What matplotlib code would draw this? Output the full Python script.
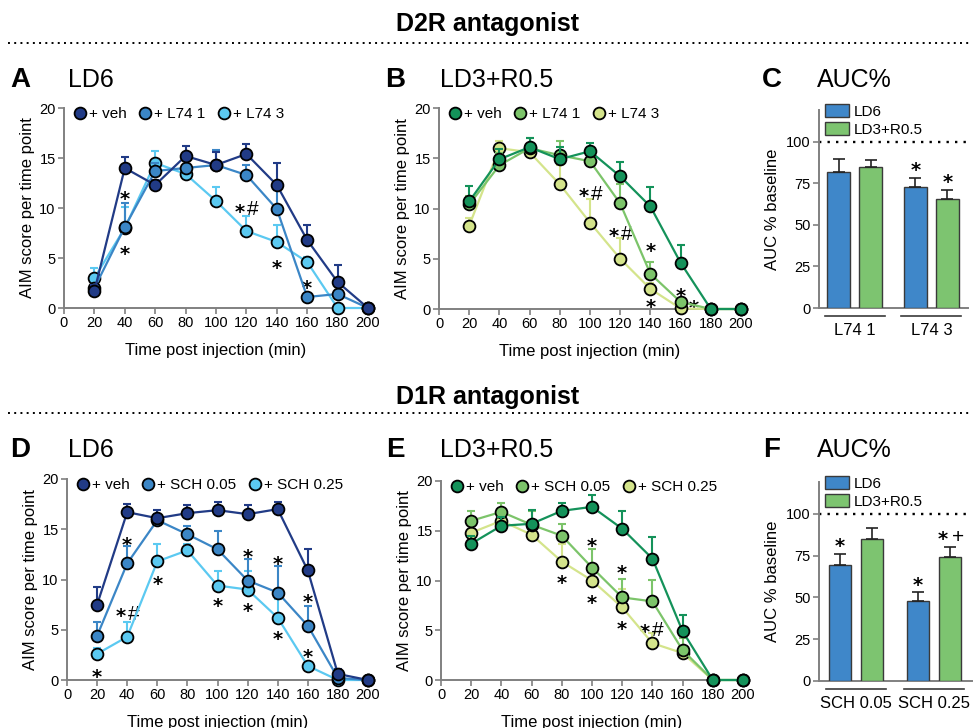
import numpy as np
import matplotlib.pyplot as plt
from matplotlib.lines import Line2D
from matplotlib.patches import Patch

plt.rcParams['font.family'] = ['Liberation Sans', 'DejaVu Sans']

W, H = 975, 728

# ---- data -------------------------------------------------------------
time_min = [20, 40, 60, 80, 100, 120, 140, 160, 180, 200]

# A: D2R antagonist, LD6
a_labels = ['+ veh', '+ L74 1', '+ L74 3']
a_veh = [1.7, 14.0, 12.3, 15.2, 14.3, 15.4, 12.3, 6.8, 2.6, 0.0]
a_veh_err = [0.6, 1.1, 0.5, 1.0, 1.3, 1.0, 2.2, 1.5, 1.7, 0.0]
a_l1 = [2.0, 8.1, 13.7, 14.0, 14.3, 13.3, 9.9, 1.1, 1.4, 0.0]
a_l1_err = [0.4, 2.4, 0.8, 0.8, 1.5, 1.0, 1.9, 0.3, 0.3, 0.0]
a_l3 = [3.0, 8.0, 14.5, 13.4, 10.7, 7.7, 6.6, 4.6, 0.0, 0.0]
a_l3_err = [1.0, 2.1, 1.2, 0.6, 1.4, 1.5, 1.7, 0.5, 0.0, 0.0]
a_marks = [(40, 11.5, '*'), (40, 6.0, '*'), (120, 10.2, '*#'),
           (140, 4.6, '*'), (160, 2.6, '*')]

# B: D2R antagonist, LD3+R0.5
b_labels = ['+ veh', '+ L74 1', '+ L74 3']
b_veh = [10.7, 14.9, 16.1, 14.9, 15.7, 13.2, 10.2, 4.6, 0.0, 0.0]
b_veh_err = [1.5, 1.0, 0.9, 1.2, 0.8, 1.4, 1.9, 1.8, 0.0, 0.0]
b_l1 = [10.4, 14.3, 16.0, 15.3, 14.7, 10.5, 3.5, 0.7, 0.0, 0.0]
b_l1_err = [0.8, 1.2, 1.0, 1.4, 0.8, 1.9, 1.2, 0.3, 0.0, 0.0]
b_l3 = [8.3, 16.0, 15.6, 12.4, 8.6, 5.0, 2.0, 0.05, 0.0, 0.0]
b_l3_err = [0.8, 0.7, 0.8, 1.9, 2.3, 2.1, 0.6, 0.1, 0.0, 0.0]
b_marks = [(100, 11.8, '*#'), (120, 7.8, '*#'), (140, 6.3, '*'),
           (140, 0.8, '*'), (160, 1.9, '*'), (169, 0.7, '*')]

# C: AUC % baseline, D2R antagonist
c_groups = ['L74 1', 'L74 3']
c_ld6 = [81.6, 72.6]
c_ld6_err = [8.0, 5.8]
c_ld3 = [84.6, 65.4]
c_ld3_err = [4.2, 5.6]
c_marks = [(1, 'LD6', '*'), (1, 'LD3', '*')]

# D: D1R antagonist, LD6
d_labels = ['+ veh', '+ SCH 0.05', '+ SCH 0.25']
d_veh = [7.5, 16.7, 16.1, 16.6, 16.9, 16.5, 17.0, 10.9, 0.6, 0.0]
d_veh_err = [1.8, 0.8, 0.8, 0.8, 0.8, 0.9, 0.7, 2.1, 0.5, 0.0]
d_s1 = [4.4, 11.6, 15.9, 14.5, 13.0, 9.9, 8.7, 5.4, 0.2, 0.0]
d_s1_err = [1.4, 1.7, 0.6, 0.8, 1.8, 2.1, 2.6, 2.0, 0.2, 0.0]
d_s2 = [2.6, 4.3, 11.8, 12.9, 9.4, 9.0, 6.2, 1.4, 0.0, 0.0]
d_s2_err = [0.6, 1.5, 1.7, 0.6, 1.4, 1.8, 1.9, 0.4, 0.0, 0.0]
d_marks = [(20, 0.9, '*'), (40, 14.0, '*'), (40, 6.9, '*#'), (60, 10.1, '*'),
           (100, 7.9, '*'), (120, 12.8, '*'), (120, 7.4, '*'), (140, 12.1, '*'),
           (140, 4.7, '*'), (160, 8.3, '*'), (160, 2.9, '*')]

# E: D1R antagonist, LD3+R0.5
e_labels = ['+ veh', '+ SCH 0.05', '+ SCH 0.25']
e_veh = [13.7, 15.5, 15.7, 17.0, 17.4, 15.2, 12.2, 4.9, 0.0, 0.0]
e_veh_err = [0.8, 0.9, 1.4, 0.8, 1.2, 1.8, 2.2, 1.6, 0.0, 0.0]
e_s1 = [16.0, 16.9, 15.6, 14.5, 11.3, 8.3, 7.9, 3.0, 0.0, 0.0]
e_s1_err = [1.0, 0.9, 1.4, 1.2, 1.9, 1.9, 2.2, 1.2, 0.0, 0.0]
e_s2 = [14.8, 16.0, 14.6, 11.9, 10.0, 7.3, 3.7, 2.7, 0.0, 0.0]
e_s2_err = [1.2, 0.8, 1.0, 1.8, 1.2, 1.8, 1.0, 0.6, 0.0, 0.0]
e_marks = [(80, 10.3, '*'), (100, 14.1, '*'), (100, 8.3, '*'),
           (120, 11.3, '*'), (120, 5.7, '*'), (139, 5.4, '*#')]

# F: AUC % baseline, D1R antagonist
f_groups = ['SCH 0.05', 'SCH 0.25']
f_ld6 = [69.6, 47.6]
f_ld6_err = [6.4, 5.4]
f_ld3 = [85.2, 74.2]
f_ld3_err = [6.0, 6.2]
f_marks = [(0, 'LD6', '*'), (1, 'LD6', '*'), (1, 'LD3', '* +')]

BLUES = ['#213b86', '#3b86c6', '#5bc9f1']
GREENS = ['#14925a', '#7cc46a', '#d4e48b']
BAR_COLORS = {'LD6': '#3f87c9', 'LD3': '#7dc470'}
SPINE = '#808080'


def px_axes(fig, left, right, top, bottom):
    return fig.add_axes([left / W, 1 - bottom / H, (right - left) / W, (bottom - top) / H])


def style_axes(ax):
    for s in ['top', 'right']:
        ax.spines[s].set_visible(False)
    for s in ['left', 'bottom']:
        ax.spines[s].set_color(SPINE)
        ax.spines[s].set_linewidth(1.4)
    ax.tick_params(direction='out', length=4, width=1.2, color=SPINE,
                   labelsize=10.5, pad=2)


def star(ax, x, y, txt):
    # '*' is drawn bold, a following '#' or '+' regular, placed side by side
    if len(txt) == 1:
        parts = [(0, '*')]
    else:
        half = 5.5 if ' ' in txt else 4.6
        parts = [(-half, '*'), (half, txt[-1])]
    for dx, ch in parts:
        if ch == '*':
            ax.annotate(ch, xy=(x, y), xytext=(dx, -8.5), textcoords='offset points',
                        ha='center', va='baseline', fontsize=14, family='DejaVu Sans',
                        fontweight='bold', annotation_clip=False)
        else:
            ax.annotate(ch, xy=(x, y), xytext=(dx, -6.8), textcoords='offset points',
                        ha='center', va='baseline', fontsize=15,
                        annotation_clip=False)


def line_panel(ax, series, errs, colors, labels, marks):
    # higher dose drawn first so the vehicle curve sits on top
    for k in [2, 1, 0]:
        z = 3 + (2 - k) * 2
        y = np.array(series[k])
        e = np.array(errs[k])
        ax.errorbar(time_min, y, yerr=[np.zeros_like(e), e], fmt='none',
                    ecolor=colors[k], elinewidth=1.5, capsize=3.2, capthick=1.5,
                    zorder=z, clip_on=False)
        ax.plot(time_min, y, '-o', color=colors[k], lw=1.6, ms=8.5,
                mec='black', mew=1.3, zorder=z + 1, clip_on=False)
    ax.set_xlim(0, 200)
    ax.set_ylim(0, 20)
    ax.set_xticks(range(0, 201, 20))
    ax.set_yticks([0, 5, 10, 15, 20])
    style_axes(ax)
    ax.set_xlabel('Time post injection (min)', fontsize=12, labelpad=9)
    ax.set_ylabel('AIM score per time point', fontsize=12, labelpad=3)
    handles = [Line2D([], [], ls='none', marker='o', ms=8.5, color=c, mec='black', mew=1.3)
               for c in colors]
    ax.legend(handles, labels, ncol=3, loc='upper left', bbox_to_anchor=(0.035, 1.005),
              frameon=False, fontsize=11, handlelength=0.7, handletextpad=0.25,
              columnspacing=0.85, borderaxespad=0, borderpad=0)
    for x, yv, t in marks:
        star(ax, x, yv, t)


def bar_panel(ax, groups, ld6, ld6_err, ld3, ld3_err, marks, centers, xmax):
    off = 0.71
    centers = np.array(centers)
    pos = {'LD6': centers - off, 'LD3': centers + off}
    vals = {'LD6': (ld6, ld6_err), 'LD3': (ld3, ld3_err)}
    for key in ['LD6', 'LD3']:
        v, e = vals[key]
        ax.bar(pos[key], v, width=1.0, color=BAR_COLORS[key], edgecolor='#3a3a3a',
               linewidth=1.0, yerr=[np.zeros(len(e)), e], capsize=4,
               error_kw=dict(ecolor='#222222', elinewidth=1.2, capthick=1.2), zorder=3)
    ax.axhline(100, color='black', ls=(0, (1, 2.6)), lw=1.7, zorder=2)
    ax.set_xlim(0, xmax)
    ax.set_ylim(0, 119)
    ax.set_yticks([0, 25, 50, 75, 100])
    style_axes(ax)
    ax.set_xticks(centers)
    ax.set_xticklabels(groups, fontsize=12)
    ax.tick_params(axis='x', length=0, pad=11)
    for c in centers:
        ax.plot([c - 1.33, c + 1.33], [-4.6, -4.6], color='#3a3a3a', lw=1.2,
                clip_on=False)
    ax.set_ylabel('AUC % baseline', fontsize=12, labelpad=4)
    handles = [Patch(facecolor=BAR_COLORS[k], edgecolor='#3a3a3a', lw=1.0) for k in ['LD6', 'LD3']]
    ax.legend(handles, ['LD6', 'LD3+R0.5'], loc='upper left', bbox_to_anchor=(0.04, 1.03),
              frameon=False, fontsize=11, handlelength=1.55, handleheight=0.95,
              handletextpad=0.35, labelspacing=0.2, borderaxespad=0, borderpad=0)
    for gi, key, t in marks:
        v, e = vals[key]
        star(ax, pos[key][gi], v[gi] + e[gi] + 8, t)


fig = plt.figure(figsize=(W / 100, H / 100), dpi=100)

# section headers and dotted separators
for ytxt, yline, txt in [(31, 43, 'D2R antagonist'), (404, 413, 'D1R antagonist')]:
    fig.text(0.5, 1 - ytxt / H, txt, ha='center', va='baseline', fontsize=18,
             fontweight='bold')
    fig.add_artist(Line2D([8 / W, 970 / W], [1 - yline / H] * 2, color='black',
                          ls=(0, (1, 2.2)), lw=1.4))

# panel letters and titles
for lx, tx, yb, letter, title in [(10, 68, 87, 'A', 'LD6'), (385, 440, 87, 'B', 'LD3+R0.5'),
                                  (762, 817, 87, 'C', 'AUC%'), (10, 68, 457, 'D', 'LD6'),
                                  (386, 440, 457, 'E', 'LD3+R0.5'), (763, 817, 457, 'F', 'AUC%')]:
    fig.text(lx / W, 1 - yb / H, letter, fontsize=20, fontweight='bold', va='baseline')
    fig.text(tx / W, 1 - yb / H, title, fontsize=18, va='baseline')

axA = px_axes(fig, 64, 368, 108, 308)
line_panel(axA, [a_veh, a_l1, a_l3], [a_veh_err, a_l1_err, a_l3_err], BLUES, a_labels, a_marks)

axB = px_axes(fig, 439, 741, 108, 309)
line_panel(axB, [b_veh, b_l1, b_l3], [b_veh_err, b_l1_err, b_l3_err], GREENS, b_labels, b_marks)

axC = px_axes(fig, 819, 968, 110, 308)
bar_panel(axC, c_groups, c_ld6, c_ld6_err, c_ld3, c_ld3_err, c_marks, [1.58, 4.98], 6.6)

axD = px_axes(fig, 67, 368, 479, 680)
line_panel(axD, [d_veh, d_s1, d_s2], [d_veh_err, d_s1_err, d_s2_err], BLUES, d_labels, d_marks)

axE = px_axes(fig, 441, 743, 481, 680)
line_panel(axE, [e_veh, e_s1, e_s2], [e_veh_err, e_s1_err, e_s2_err], GREENS, e_labels, e_marks)

axF = px_axes(fig, 819, 972, 482, 681)
bar_panel(axF, f_groups, f_ld6, f_ld6_err, f_ld3, f_ld3_err, f_marks, [1.64, 5.09], 6.77)

fig.savefig('out.png', dpi=100)
